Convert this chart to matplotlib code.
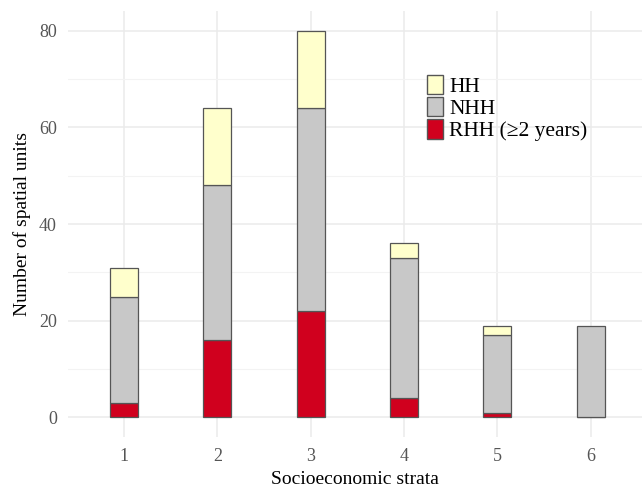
import numpy as np
import matplotlib.pyplot as plt
from matplotlib.patches import Patch

plt.rcParams['font.family'] = ['Liberation Serif', 'DejaVu Serif']

strata = [1, 2, 3, 4, 5, 6]
rhh = [3, 16, 22, 4, 1, 0]
nhh = [22, 32, 42, 29, 16, 19]
hh = [6, 16, 16, 3, 2, 0]

col_hh = '#FFFFCC'
col_nhh = '#C8C8C8'
col_rhh = '#D0001E'
edge = '#555555'

fig = plt.figure(figsize=(6.42, 4.87), dpi=100)
ax = fig.add_axes([0.106, 0.103, 0.894, 0.874])

x = np.array(strata)
w = 0.3
rhh = np.array(rhh)
nhh = np.array(nhh)
hh = np.array(hh)

ax.bar(x, rhh, w, color=col_rhh, edgecolor=edge, linewidth=0.9, zorder=3)
ax.bar(x, nhh, w, bottom=rhh, color=col_nhh, edgecolor=edge, linewidth=0.9, zorder=3)
# skip empty segments so no flat outline is drawn
m = hh > 0
ax.bar(x[m], hh[m], w, bottom=(rhh + nhh)[m], color=col_hh, edgecolor=edge, linewidth=0.9, zorder=3)

ax.set_xlim(0.4, 6.55)
ax.set_ylim(-4, 84)
ax.set_xticks(strata)
ax.set_yticks([0, 20, 40, 60, 80])
ax.set_yticks([10, 30, 50, 70], minor=True)
ax.grid(True, which='major', color='#EBEBEB', linewidth=1.1, zorder=0)
ax.grid(True, which='minor', axis='y', color='#F3F3F3', linewidth=0.8, zorder=0)
ax.tick_params(which='both', length=0, labelsize=13, labelcolor='#555555', pad=8)
for s in ax.spines.values():
    s.set_visible(False)

ax.set_xlabel('Socioeconomic strata', fontsize=14, labelpad=4)
ax.set_ylabel('Number of spatial units', fontsize=14, labelpad=6)

handles = [Patch(facecolor=col_hh, edgecolor=edge, label='HH'),
           Patch(facecolor=col_nhh, edgecolor=edge, label='NHH'),
           Patch(facecolor=col_rhh, edgecolor=edge, label='RHH (\u22652 years)')]
ax.legend(handles=handles, loc='upper left', bbox_to_anchor=(0.6, 0.885), frameon=False,
          fontsize=15.5, handlelength=0.7, handleheight=1.0, handletextpad=0.3,
          labelspacing=0.0, borderpad=0.2)

fig.savefig('out.png', dpi=100)
